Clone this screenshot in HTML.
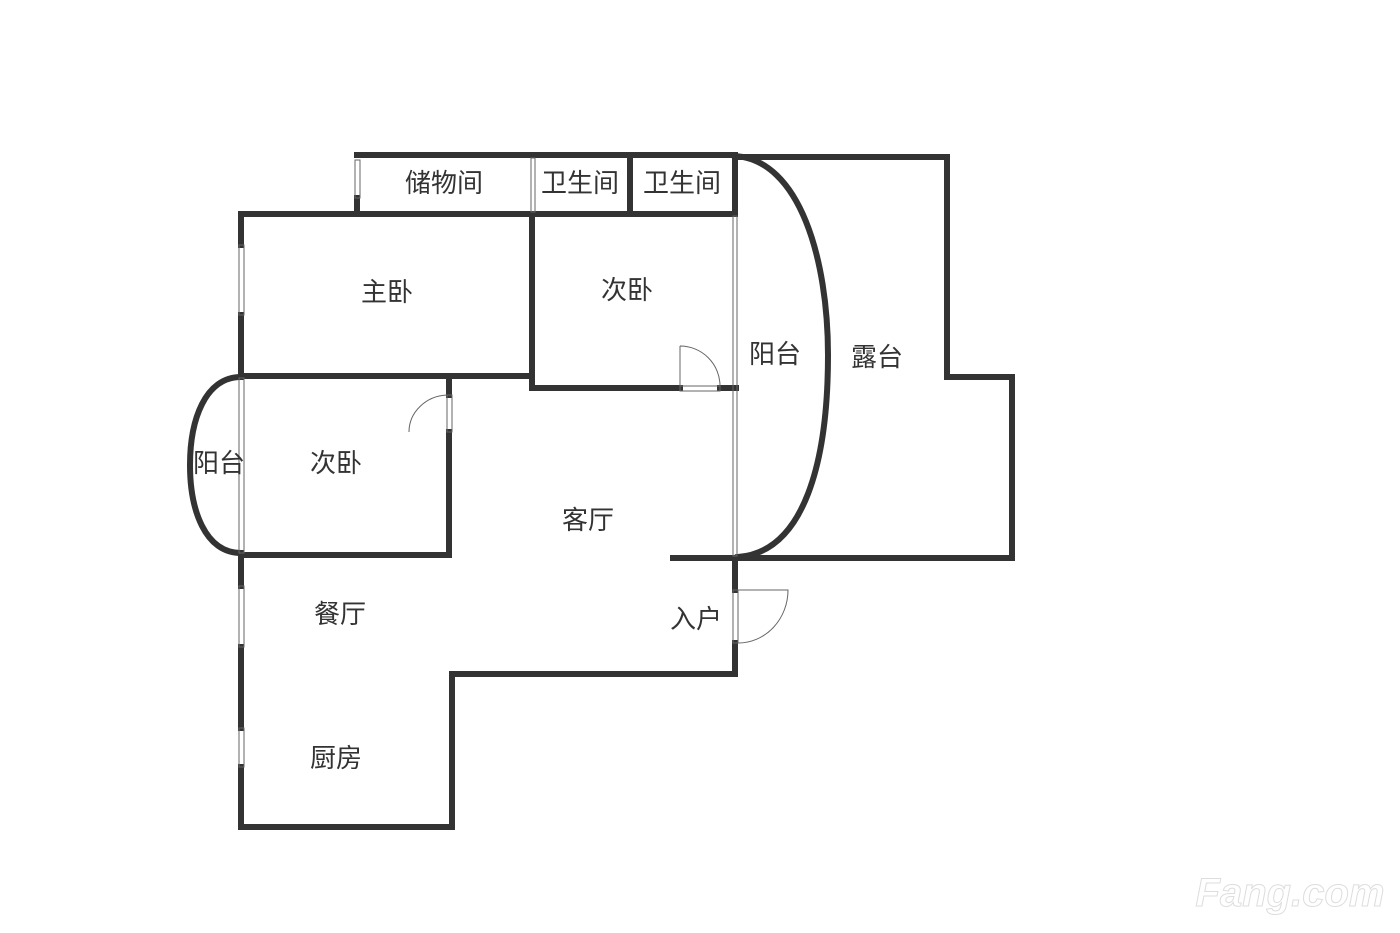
<!DOCTYPE html>
<html><head><meta charset="utf-8"><style>
html,body{margin:0;padding:0;background:#fff;}
svg{display:block;}
text{font-family:"Liberation Sans","Noto Sans CJK SC",sans-serif;font-size:26px;fill:#333;text-anchor:middle;dominant-baseline:central;}
</style></head><body>
<svg width="1400" height="933" viewBox="0 0 1400 933" xmlns="http://www.w3.org/2000/svg">
<g stroke="#333" stroke-width="6" fill="none" stroke-linecap="square">
<line x1="357" y1="155" x2="735" y2="155"/>
<line x1="357" y1="198" x2="357" y2="212"/>
<line x1="241" y1="214" x2="735" y2="214"/>
<line x1="630" y1="155" x2="630" y2="212"/>
<line x1="735" y1="155" x2="735" y2="212"/>
<line x1="241" y1="214" x2="241" y2="245"/>
<line x1="241" y1="315" x2="241" y2="375"/>
<line x1="241" y1="376" x2="532" y2="376"/>
<line x1="532" y1="214" x2="532" y2="388"/>
<line x1="532" y1="388" x2="680" y2="388"/>
<line x1="720" y1="388" x2="736" y2="388"/>
<line x1="449" y1="376" x2="449" y2="395"/>
<line x1="449" y1="432" x2="449" y2="555"/>
<line x1="241" y1="555" x2="449" y2="555"/>
<line x1="241" y1="555" x2="241" y2="586"/>
<line x1="241" y1="647" x2="241" y2="728"/>
<line x1="241" y1="767" x2="241" y2="827"/>
<line x1="241" y1="827" x2="452" y2="827"/>
<line x1="452" y1="827" x2="452" y2="674"/>
<line x1="452" y1="674" x2="735" y2="674"/>
<line x1="735" y1="674" x2="735" y2="643"/>
<line x1="735" y1="590" x2="735" y2="558"/>
<line x1="673" y1="558" x2="1012" y2="558"/>
<line x1="738" y1="157" x2="947" y2="157"/>
<line x1="947" y1="157" x2="947" y2="377"/>
<line x1="947" y1="377" x2="1012" y2="377"/>
<line x1="1012" y1="377" x2="1012" y2="558"/>
<path d="M735,156 C800,160 828,260 828,355 C828,460 805,552 738,557"/>
<path d="M241,377 C205,377 190,420 190,465 C190,510 205,553 241,553"/>
</g>
<g stroke="#666" stroke-width="1" fill="none">
<rect x="355" y="160" width="5" height="38"/>
<rect x="531" y="158" width="4" height="54"/>
<rect x="239" y="245" width="5" height="70"/>
<rect x="239" y="378" width="5" height="175"/>
<rect x="733" y="216" width="4" height="340"/>
<rect x="239" y="586" width="5" height="61"/>
<rect x="239" y="728" width="5" height="39"/>
<rect x="447" y="395" width="5" height="37"/>
<rect x="680" y="386" width="40" height="5"/>
<rect x="733" y="590" width="5" height="53"/>
<path d="M680,346 A40,40 0 0 1 720,386 M680,346 V386"/>
<path d="M409,432 A40,37 0 0 1 447,395"/>
<path d="M738,590 H788 A50,53 0 0 1 738,643"/>
</g>
<text x="444" y="183">储物间</text>
<text x="580" y="183">卫生间</text>
<text x="682" y="183">卫生间</text>
<text x="387" y="292">主卧</text>
<text x="627" y="290">次卧</text>
<text x="775" y="354">阳台</text>
<text x="877" y="357">露台</text>
<text x="219" y="463">阳台</text>
<text x="336" y="463">次卧</text>
<text x="588" y="520">客厅</text>
<text x="340" y="614">餐厅</text>
<text x="696" y="619">入户</text>
<text x="336" y="758">厨房</text>
<text x="1290" y="893" style="font-size:40px;font-weight:bold;font-style:italic;fill:#fff;stroke:#ddd;stroke-width:1">Fang.com</text>
</svg>
</body></html>
